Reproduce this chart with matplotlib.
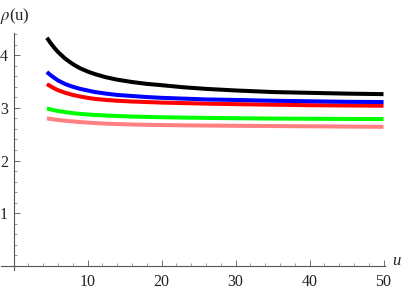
import matplotlib.pyplot as plt
from matplotlib.ticker import MultipleLocator

plt.rcParams['font.family'] = ['Liberation Serif', 'DejaVu Serif']
plt.rcParams['mathtext.fontset'] = 'stix'

# values
u = [4.5, 5, 5.5, 6, 7, 8, 9, 10, 11, 12.5, 14, 16, 18, 20, 23, 26, 30, 35, 40, 45, 50]
rho_black = [4.33, 4.23, 4.14, 4.06, 3.93, 3.83, 3.75, 3.69, 3.64, 3.58, 3.535,
             3.49, 3.455, 3.43, 3.39, 3.36, 3.33, 3.30, 3.285, 3.27, 3.26]
rho_blue = [3.68, 3.62, 3.57, 3.52, 3.45, 3.40, 3.36, 3.33, 3.30, 3.27, 3.245,
            3.225, 3.205, 3.19, 3.175, 3.16, 3.15, 3.135, 3.125, 3.115, 3.11]
rho_red = [3.45, 3.41, 3.37, 3.335, 3.285, 3.245, 3.215, 3.19, 3.17, 3.15, 3.135,
           3.12, 3.11, 3.10, 3.09, 3.08, 3.07, 3.06, 3.05, 3.045, 3.04]
rho_green = [2.99, 2.97, 2.955, 2.94, 2.92, 2.90, 2.885, 2.875, 2.865, 2.855, 2.845,
             2.835, 2.828, 2.822, 2.815, 2.81, 2.803, 2.797, 2.793, 2.79, 2.787]
rho_pink = [2.80, 2.79, 2.78, 2.77, 2.755, 2.742, 2.73, 2.72, 2.712, 2.70, 2.692,
            2.684, 2.678, 2.674, 2.668, 2.664, 2.66, 2.655, 2.65, 2.645, 2.64]

fig = plt.figure(figsize=(4.15, 2.9), dpi=100)
ax = fig.add_axes([1/415, 20/290, 384/415, 237/290])

series = [(rho_pink, '#ff8080'), (rho_green, '#00ff00'), (rho_red, '#ff0000'),
          (rho_blue, '#0000ff'), (rho_black, 'black')]
for rho, c in series:
    ax.plot(u, rho, color=c, lw=2.9, solid_capstyle='butt', solid_joinstyle='round')

ax.set_xlim(-1.7, 50.2)
ax.set_ylim(-0.076, 4.42)

for s in ['top', 'right']:
    ax.spines[s].set_visible(False)
ax.spines['left'].set_position(('data', 0))
ax.spines['bottom'].set_position(('data', 0))
for s in ['left', 'bottom']:
    ax.spines[s].set_color('#555555')
    ax.spines[s].set_linewidth(0.8)

ax.set_xticks([10, 20, 30, 40, 50])
ax.set_yticks([1, 2, 3, 4])
ax.xaxis.set_minor_locator(MultipleLocator(2))
ax.yaxis.set_minor_locator(MultipleLocator(0.2))
ax.tick_params(which='major', direction='in', length=4, width=0.6, color='#555555',
               labelsize=11.5, labelcolor='#222222')
ax.tick_params(axis='x', which='major', pad=5.5)
ax.tick_params(axis='y', which='major', pad=4)
ax.tick_params(which='minor', direction='in', length=2.3, width=0.5, color='#777777')

ax.text(-0.003, 1.055, r'$\rho$(u)', transform=ax.transAxes, fontsize=12,
        ha='left', va='baseline', color='#222222')
ax.text(1.03, 0.04, 'u', transform=ax.transAxes, fontsize=12, style='italic',
        ha='center', va='center', color='#222222')

fig.savefig('out.png', dpi=100)
